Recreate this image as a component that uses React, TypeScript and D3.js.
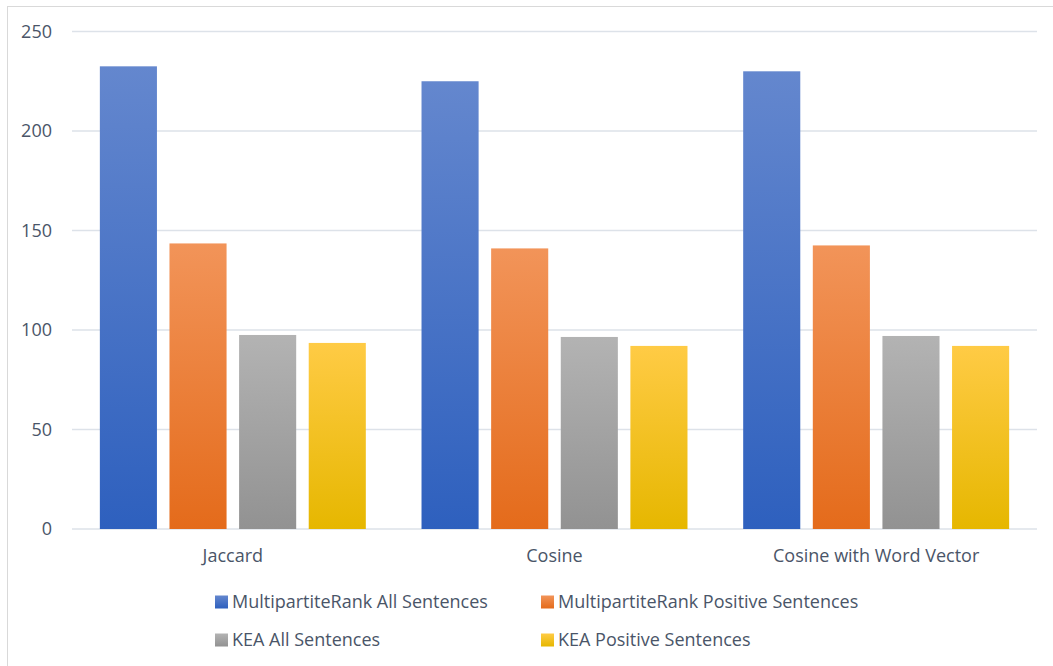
import React from "react";
import * as d3 from "d3";

const categories = ["Jaccard", "Cosine", "Cosine with Word Vector"];
const seriesNames = [
  "MultipartiteRank All Sentences",
  "MultipartiteRank Positive Sentences",
  "KEA All Sentences",
  "KEA Positive Sentences",
];
const mrAll = [232.5, 225, 230];
const mrPos = [143.5, 141, 142.5];
const keaAll = [97.5, 96.5, 97];
const keaPos = [93.5, 92, 92];
const yTicks = [0, 50, 100, 150, 200, 250];

const seriesValues = [mrAll, mrPos, keaAll, keaPos];
const gradients = [
  ["#6487CE", "#2E60BE"],
  ["#F29459", "#E46B1B"],
  ["#B3B3B3", "#929292"],
  ["#FFCB45", "#E6B700"],
];

const W = 1053;
const H = 666;
const FONT = "'Open Sans', 'Liberation Sans', sans-serif";
const TXT = "#4A5568";

export default function App() {
  const left = 72;
  const right = 1037;
  const y = d3.scaleLinear().domain([0, 250]).range([529, 31.5]);
  const x0 = d3.scaleBand<string>().domain(categories).range([left, right]).padding(0);
  const x1 = d3
    .scaleBand<number>()
    .domain(d3.range(seriesNames.length))
    .range([0, x0.bandwidth()])
    .paddingInner(0.18)
    .paddingOuter(0.4);

  const legendPos = [
    { x: 215, y: 602 },
    { x: 541, y: 602 },
    { x: 215, y: 640 },
    { x: 541, y: 640 },
  ];

  return (
    <svg
      width={W}
      height={H}
      style={{ position: "absolute", left: 0, top: 0, background: "#fff" }}
      fontFamily={FONT}
    >
      <defs>
        {gradients.map((g, i) => (
          <linearGradient key={i} id={`g${i}`} x1="0" y1="0" x2="0" y2="1">
            <stop offset="0" stopColor={g[0]} />
            <stop offset="1" stopColor={g[1]} />
          </linearGradient>
        ))}
      </defs>
      <rect x={7.5} y={6.5} width={W + 10} height={H + 10} fill="#fff" stroke="#D9D9D9" strokeWidth={1} />
      {yTicks.map((t) => (
        <g key={t}>
          <line x1={left} x2={right} y1={y(t)} y2={y(t)} stroke="#DDE2E9" strokeWidth={1.5} />
          <text x={52} y={y(t)} dy="0.35em" textAnchor="end" fontSize={18} fill={TXT}>
            {t}
          </text>
        </g>
      ))}
      {categories.map((c, ci) => (
        <g key={c}>
          {seriesValues.map((vals, si) => {
            const bx = (x0(c) as number) + (x1(si) as number);
            return (
              <rect
                key={si}
                x={bx}
                y={y(vals[ci])}
                width={x1.bandwidth()}
                height={y(0) - y(vals[ci])}
                fill={`url(#g${si})`}
              />
            );
          })}
          <text
            x={(x0(c) as number) + x0.bandwidth() / 2}
            y={556}
            dy="0.35em"
            textAnchor="middle"
            fontSize={18}
            fill={TXT}
          >
            {c}
          </text>
        </g>
      ))}
      {seriesNames.map((s, i) => (
        <g key={s}>
          <rect x={legendPos[i].x} y={legendPos[i].y - 6.5} width={13} height={13} fill={`url(#g${i})`} />
          <text x={legendPos[i].x + 17} y={legendPos[i].y} dy="0.35em" fontSize={18} fill={TXT}>
            {s}
          </text>
        </g>
      ))}
    </svg>
  );
}
